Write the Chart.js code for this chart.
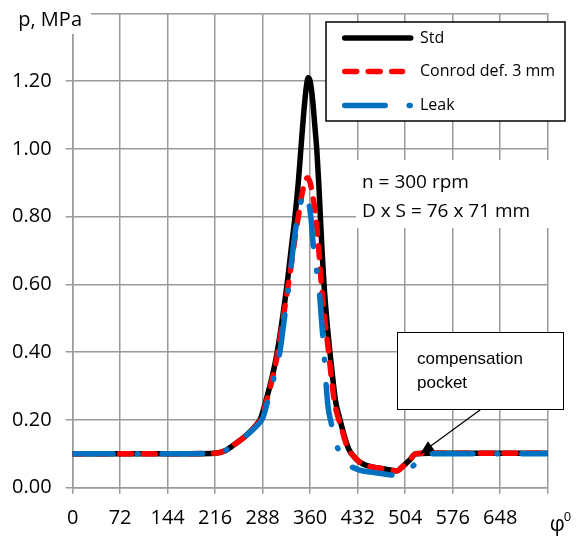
<html>
<head>
<meta charset="utf-8">
<script src="https://cdn.jsdelivr.net/npm/chart.js"></script>
<style>
  body { margin: 0; background: #fff; }
</style>
</head>
<body>
<canvas id="myChart" width="583" height="536"></canvas>
<script>
// crank angle (deg) and cylinder pressure (MPa)
var stdPhi = [0, 72, 144, 216, 232, 244, 264, 276, 285, 292, 299, 305, 310, 318, 325, 331, 337, 342, 346, 350, 354, 357,
              360, 364, 367, 370, 373, 375.5, 378, 381, 385, 390, 395, 399, 404, 408, 413, 419, 425, 431, 440, 452, 470, 492, 500, 510, 520, 540, 720];
var stdP   = [0.100, 0.100, 0.100, 0.102, 0.110, 0.126, 0.156, 0.180, 0.205, 0.25, 0.30, 0.35, 0.40, 0.50, 0.60, 0.70, 0.80, 0.90, 1.00, 1.10, 1.18, 1.21,
              1.20, 1.14, 1.07, 1.00, 0.90, 0.80, 0.70, 0.60, 0.50, 0.40, 0.31, 0.25, 0.21, 0.18, 0.145, 0.112, 0.095, 0.082, 0.070, 0.062, 0.056, 0.050, 0.062, 0.080, 0.100, 0.102, 0.102];

var conrodPhi = [0, 72, 144, 216, 232, 244, 264, 276, 286, 293, 300, 306, 311, 319, 327, 333, 338, 343, 348, 352, 356,
                 360, 364, 368, 371, 374, 377, 382, 388, 393, 397, 402, 407, 412, 418, 425, 431, 440, 452, 470, 492, 500, 510, 520, 540, 720];
var conrodP   = [0.100, 0.100, 0.100, 0.102, 0.110, 0.126, 0.156, 0.180, 0.205, 0.25, 0.30, 0.35, 0.40, 0.50, 0.60, 0.68, 0.75, 0.81, 0.87, 0.90, 0.915,
                 0.90, 0.86, 0.81, 0.75, 0.68, 0.60, 0.50, 0.40, 0.31, 0.25, 0.21, 0.18, 0.145, 0.112, 0.095, 0.082, 0.070, 0.062, 0.056, 0.050, 0.062, 0.080, 0.100, 0.102, 0.102];

var leakPhi = [0, 72, 144, 216, 232, 244, 264, 278, 288, 295, 302, 308, 314, 321, 328, 335, 341, 347, 353,
               357, 361, 365, 369, 373, 377, 381, 384, 387, 392, 396, 401, 409, 419, 435, 452, 470, 492, 505, 520, 528, 540, 720];
var leakP   = [0.100, 0.100, 0.100, 0.102, 0.110, 0.126, 0.156, 0.180, 0.205, 0.25, 0.30, 0.35, 0.40, 0.50, 0.60, 0.72, 0.80, 0.85, 0.87,
               0.85, 0.80, 0.71, 0.65, 0.60, 0.50, 0.40, 0.31, 0.24, 0.19, 0.155, 0.121, 0.090, 0.067, 0.052, 0.046, 0.041, 0.037, 0.050, 0.072, 0.097, 0.100, 0.100];

var seriesNames = ['Std', 'Conrod def. 3 mm', 'Leak'];
var noteLines = ['n = 300 rpm', 'D x S = 76 x 71 mm'];
var pocketLines = ['compensation', 'pocket'];

function pts(xs, ys) {
    return xs.map(function (x, i) { return { x: x, y: ys[i] }; });
}

var gridCol = '#9a9a9a';
var lw = 5.5;
var redDash = [12, 11.5];
var blueDash = [40.5, 24, 1, 24];

var overlay = {
    id: 'overlay',
    afterDraw: function (chart) {
        var c = chart.ctx;
        var xs = chart.scales.x;
        c.save();

        // corner label over the top-left
        c.fillStyle = '#fff';
        c.fillRect(0, 0, 91, 34);
        c.fillStyle = '#000';
        c.font = '20px "Open Sans"';
        c.textAlign = 'right';
        c.textBaseline = 'alphabetic';
        c.fillText('p, MPa', 82, 26);

        // last x label
        var xe = xs.getPixelForValue(720);
        c.textAlign = 'left';
        c.font = '21px "Open Sans"';
        c.fillText('\u03c6', xe + 2, 531);
        c.font = '13px "Open Sans"';
        c.fillText('0', xe + 16, 521);

        // engine note
        c.fillStyle = '#fff';
        c.fillRect(356, 160, 206, 68);
        c.fillStyle = '#000';
        c.font = '19px "Open Sans"';
        c.fillText(noteLines[0], 362, 188);
        c.fillText(noteLines[1], 362, 217);

        // legend
        c.fillStyle = '#fff';
        c.fillRect(326, 22, 239, 99);
        c.strokeStyle = '#000';
        c.lineWidth = 1.5;
        c.strokeRect(326, 22, 239, 99);
        var rows = [38, 71.5, 105.5];
        var cols = ['#000000', '#ff0000', '#0070c0'];
        var dashes = [[], redDash, blueDash];
        for (var i = 0; i < 3; i++) {
            c.beginPath();
            c.lineWidth = lw;
            c.lineCap = 'round';
            c.strokeStyle = cols[i];
            c.setLineDash(dashes[i]);
            c.moveTo(344.7, rows[i]);
            c.lineTo(i === 1 ? 402.5 : 410.7, rows[i]);
            c.stroke();
            c.setLineDash([]);
            c.fillStyle = '#000';
            c.font = '16px "Open Sans"';
            c.textBaseline = 'middle';
            c.fillText(seriesNames[i], 420, rows[i]);
        }

        // compensation pocket callout
        c.textBaseline = 'alphabetic';
        c.fillStyle = '#fff';
        c.fillRect(397, 332, 166, 77);
        c.strokeStyle = '#000';
        c.lineWidth = 1;
        c.strokeRect(397.5, 332.5, 166, 77);
        c.fillStyle = '#000';
        c.font = '17px "Liberation Sans"';
        c.fillText(pocketLines[0], 417, 364);
        c.fillText(pocketLines[1], 417, 388);

        c.beginPath();
        c.lineWidth = 1.2;
        c.moveTo(480, 410);
        c.lineTo(428, 448);
        c.stroke();
        var ang = Math.atan2(454 - 410, 420 - 480);
        c.beginPath();
        c.moveTo(420, 454);
        c.lineTo(420 - 15 * Math.cos(ang - 0.38), 454 - 15 * Math.sin(ang - 0.38));
        c.lineTo(420 - 15 * Math.cos(ang + 0.38), 454 - 15 * Math.sin(ang + 0.38));
        c.closePath();
        c.fill();

        c.restore();
    }
};

var ctx = document.getElementById('myChart').getContext('2d');
window.myLine = new Chart(ctx, {
    type: 'line',
    data: {
        datasets: [
            { label: seriesNames[0], data: pts(stdPhi, stdP), borderColor: '#000000', order: 3 },
            { label: seriesNames[1], data: pts(conrodPhi, conrodP), borderColor: '#ff0000', borderDash: redDash, order: 2 },
            { label: seriesNames[2], data: pts(leakPhi, leakP), borderColor: '#0070c0', borderDash: blueDash, order: 1 }
        ]
    },
    options: {
        responsive: false,
        animation: false,
        devicePixelRatio: 1,
        layout: { padding: { left: 0, top: 13.3, right: 35.3, bottom: 0 } },
        elements: {
            point: { radius: 0 },
            line: { borderWidth: lw, borderCapStyle: 'round', borderJoinStyle: 'round', cubicInterpolationMode: 'monotone', fill: false }
        },
        plugins: { legend: { display: false }, tooltip: { enabled: false } },
        scales: {
            x: {
                type: 'linear', min: 0, max: 720,
                afterFit: function (s) { s.height = 48.3; s.paddingLeft = 0; s.paddingRight = 0; },
                grid: { color: gridCol, lineWidth: 1.5, tickLength: 6 },
                border: { color: gridCol, width: 1.5 },
                ticks: {
                    stepSize: 72, autoSkip: false, maxRotation: 0, padding: 13,
                    color: '#000', font: { family: 'Open Sans', size: 20 },
                    callback: function (v) { return v === 720 ? '' : String(v); }
                }
            },
            y: {
                min: 0, max: 1.4,
                afterFit: function (s) { s.width = 72.6; s.paddingTop = 0; s.paddingBottom = 0; },
                grid: { color: gridCol, lineWidth: 1.5, tickLength: 7 },
                border: { color: gridCol, width: 1.5 },
                ticks: {
                    stepSize: 0.2, padding: 14,
                    color: '#000', font: { family: 'Open Sans', size: 20 },
                    callback: function (v) { return Math.abs(v - 1.4) < 1e-6 ? '' : v.toFixed(2); }
                }
            }
        }
    },
    plugins: [overlay]
});
</script>
</body>
</html>
